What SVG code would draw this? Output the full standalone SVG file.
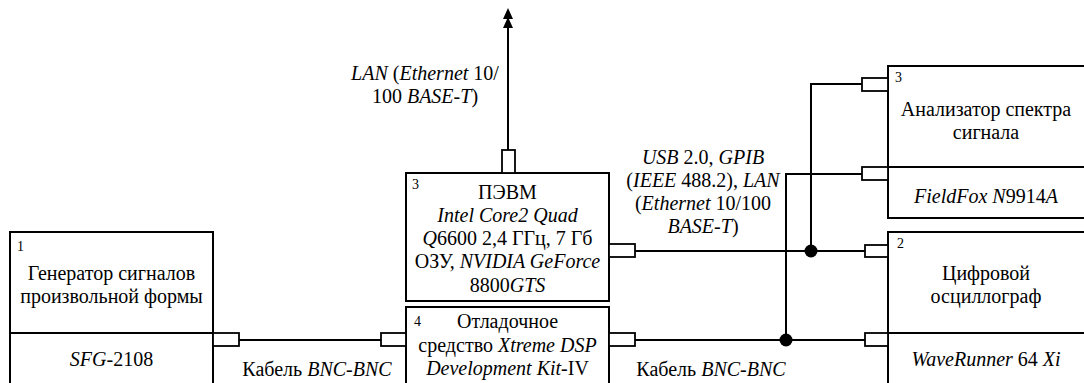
<svg xmlns="http://www.w3.org/2000/svg" width="1084" height="383" viewBox="0 0 1084 383">
<style>
text{font-family:'Liberation Serif','Tinos','DejaVu Serif',serif;font-size:20px;fill:#000}
.c{text-anchor:middle}
.n{font-size:14px}
.i{font-style:italic}
.box{fill:none;stroke:#000;stroke-width:2}
.port{fill:#fff;stroke:#000;stroke-width:1.8}
.w{fill:none;stroke:#000;stroke-width:2}
</style>
<rect width="1084" height="383" fill="#fff"/>
<g id="connectors">
<path class="w" d="M239 340H381"/>
<path class="w" d="M508 150V24"/>
<polygon points="508,8 503,19 513,19"/>
<polygon points="508,17 503,28 513,28"/>
<path class="w" d="M635 251H865"/>
<path class="w" d="M635 340H865"/>
<path class="w" d="M811 251V84H862"/>
<path class="w" d="M786 340V174H862"/>
<circle cx="811" cy="251" r="6.5"/>
<circle cx="786" cy="340" r="6.5"/>
<text class="c" x="425" y="80"><tspan class="i">LAN</tspan> (<tspan class="i">Ethernet</tspan> 10/</text>
<text class="c" x="425" y="103">100 <tspan class="i">BASE-T</tspan>)</text>
<text class="c" x="703" y="164"><tspan class="i">USB</tspan> 2.0, <tspan class="i">GPIB</tspan></text>
<text class="c" x="703" y="187">(<tspan class="i">IEEE</tspan> 488.2), <tspan class="i">LAN</tspan></text>
<text class="c" x="703" y="210">(<tspan class="i">Ethernet</tspan> 10/100</text>
<text class="c" x="703" y="233"><tspan class="i">BASE-T</tspan>)</text>
<text class="c" x="317" y="376">Кабель <tspan class="i">BNC-BNC</tspan></text>
<text class="c" x="711" y="376">Кабель <tspan class="i">BNC-BNC</tspan></text>
</g>
<g id="node1">
<rect class="box" x="10" y="232" width="203" height="160"/>
<path class="w" d="M10 333H213"/>
<rect class="port" x="213" y="333" width="26" height="13"/>
<text class="n" x="17" y="251">1</text>
<text class="c" x="111.5" y="280">Генератор сигналов</text>
<text class="c" x="111.5" y="303">произвольной формы</text>
<text class="c" x="111.5" y="366"><tspan class="i">SFG</tspan>-2108</text>
</g>
<g id="node3-pc">
<rect class="box" x="406" y="173" width="203" height="128"/>
<rect class="port" x="502" y="150" width="13" height="23"/>
<rect class="port" x="609" y="244" width="26" height="13"/>
<text class="n" x="412" y="189">3</text>
<text class="c" x="507.5" y="199">ПЭВМ</text>
<text class="c i" x="507.5" y="222">Intel Core2 Quad</text>
<text class="c" x="507.5" y="245"><tspan class="i">Q</tspan>6600 2,4 ГГц, 7 Гб</text>
<text class="c" x="507.5" y="268">ОЗУ, <tspan class="i">NVIDIA GeForce</tspan></text>
<text class="c" x="507.5" y="292">8800<tspan class="i">GTS</tspan></text>
</g>
<g id="node4-dsp">
<rect class="box" x="406" y="307" width="203" height="90"/>
<rect class="port" x="381" y="333" width="25" height="13"/>
<rect class="port" x="609" y="333" width="26" height="13"/>
<text class="n" x="414" y="326">4</text>
<text class="c" x="507.5" y="328">Отладочное</text>
<text class="c" x="507.5" y="352">средство <tspan class="i">Xtreme DSP</tspan></text>
<text class="c" x="507.5" y="375"><tspan class="i">Development Kit</tspan>-IV</text>
</g>
<g id="node-analyzer">
<rect class="box" x="888" y="66" width="210" height="152"/>
<path class="w" d="M888 167H1098"/>
<rect class="port" x="862" y="78" width="26" height="13"/>
<rect class="port" x="862" y="167" width="26" height="13"/>
<text class="n" x="895" y="82">3</text>
<text class="c" x="986" y="116">Анализатор спектра</text>
<text class="c" x="986" y="139">сигнала</text>
<text class="c" x="986" y="203"><tspan class="i">FieldFox N</tspan>9914<tspan class="i">A</tspan></text>
</g>
<g id="node2-scope">
<rect class="box" x="888" y="232" width="210" height="165"/>
<path class="w" d="M888 333H1098"/>
<rect class="port" x="865" y="245" width="23" height="12"/>
<rect class="port" x="865" y="333" width="23" height="13"/>
<text class="n" x="897" y="248">2</text>
<text class="c" x="986" y="280">Цифровой</text>
<text class="c" x="986" y="303">осциллограф</text>
<text class="c" x="986" y="366"><tspan class="i">WaveRunner</tspan> 64 <tspan class="i">Xi</tspan></text>
</g>
</svg>
